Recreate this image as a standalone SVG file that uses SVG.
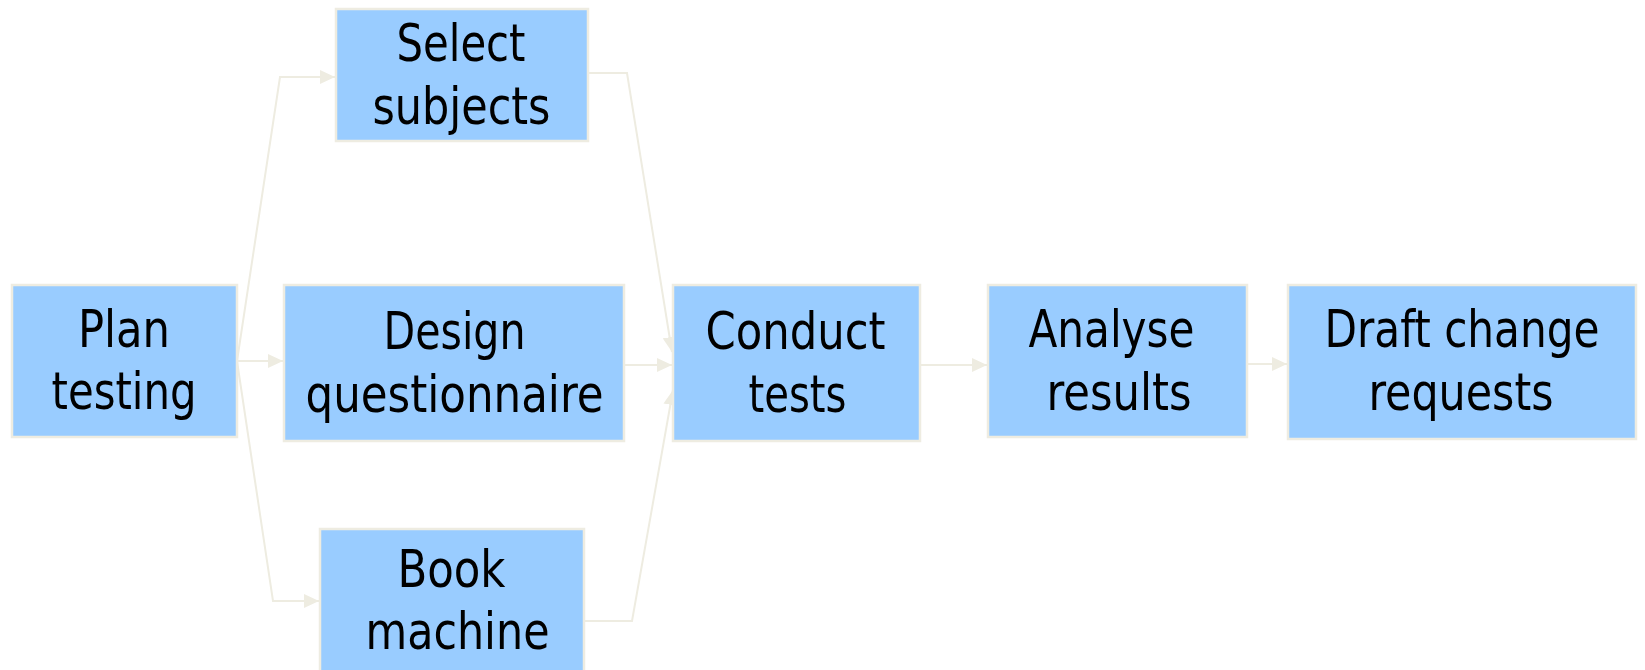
<svg xmlns="http://www.w3.org/2000/svg" width="1645" height="670" viewBox="0 0 1645 670">
<style>
.box{fill:#99ccff;stroke:#eeece1;stroke-width:2.5}
.lbl{font-family:"DejaVu Sans Condensed","DejaVu Sans",sans-serif;font-stretch:condensed;font-size:52px;fill:#000;text-anchor:middle}
.conn{fill:none;stroke:#eeece1;stroke-width:2}
</style>
<defs>
<marker id="arr" markerUnits="userSpaceOnUse" markerWidth="16" markerHeight="14" refX="15" refY="7" orient="auto">
<path d="M0,0 L15,7 L0,14 z" fill="#eeece1"/>
</marker>
</defs>
<rect width="1645" height="670" fill="#ffffff"/>
<g id="connectors">
<polyline class="conn" points="237,361 280,77 335,77" marker-end="url(#arr)"/>
<polyline class="conn" points="237,361 283,361" marker-end="url(#arr)"/>
<polyline class="conn" points="237,361 273,601 319,601" marker-end="url(#arr)"/>
<polyline class="conn" points="588,73 627,73 672,352" marker-end="url(#arr)"/>
<polyline class="conn" points="624,365 672,365" marker-end="url(#arr)"/>
<polyline class="conn" points="584,621 632,621 673,390" marker-end="url(#arr)"/>
<polyline class="conn" points="920,365 987,365" marker-end="url(#arr)"/>
<polyline class="conn" points="1247,364 1287,364" marker-end="url(#arr)"/>
</g>
<g id="plan">
<rect class="box" x="12" y="285" width="225" height="152"/>
<text class="lbl" x="124" y="347" textLength="92" lengthAdjust="spacingAndGlyphs">Plan</text>
<text class="lbl" x="124" y="409" textLength="145" lengthAdjust="spacingAndGlyphs">testing</text>
</g>
<g id="select">
<rect class="box" x="336" y="9" width="252" height="132"/>
<text class="lbl" x="461" y="61" textLength="129" lengthAdjust="spacingAndGlyphs">Select</text>
<text class="lbl" x="461.5" y="124" textLength="178" lengthAdjust="spacingAndGlyphs">subjects</text>
</g>
<g id="design">
<rect class="box" x="284" y="285" width="340" height="156"/>
<text class="lbl" x="454.5" y="349" textLength="142" lengthAdjust="spacingAndGlyphs">Design</text>
<text class="lbl" x="454.5" y="412" textLength="298" lengthAdjust="spacingAndGlyphs">questionnaire</text>
</g>
<g id="book">
<rect class="box" x="320" y="529" width="264" height="150"/>
<text class="lbl" x="451.5" y="587" textLength="108" lengthAdjust="spacingAndGlyphs">Book</text>
<text class="lbl" x="457.5" y="649" textLength="184" lengthAdjust="spacingAndGlyphs">machine</text>
</g>
<g id="conduct">
<rect class="box" x="673" y="285" width="247" height="156"/>
<text class="lbl" x="795.5" y="349" textLength="180" lengthAdjust="spacingAndGlyphs">Conduct</text>
<text class="lbl" x="797.5" y="412" textLength="98" lengthAdjust="spacingAndGlyphs">tests</text>
</g>
<g id="analyse">
<rect class="box" x="988" y="285" width="259" height="152"/>
<text class="lbl" x="1111.5" y="347" textLength="166" lengthAdjust="spacingAndGlyphs">Analyse</text>
<text class="lbl" x="1119" y="410" textLength="145" lengthAdjust="spacingAndGlyphs">results</text>
</g>
<g id="draft">
<rect class="box" x="1288" y="285" width="348" height="154"/>
<text class="lbl" x="1462" y="347" textLength="275" lengthAdjust="spacingAndGlyphs">Draft change</text>
<text class="lbl" x="1461" y="410" textLength="185" lengthAdjust="spacingAndGlyphs">requests</text>
</g>
</svg>
